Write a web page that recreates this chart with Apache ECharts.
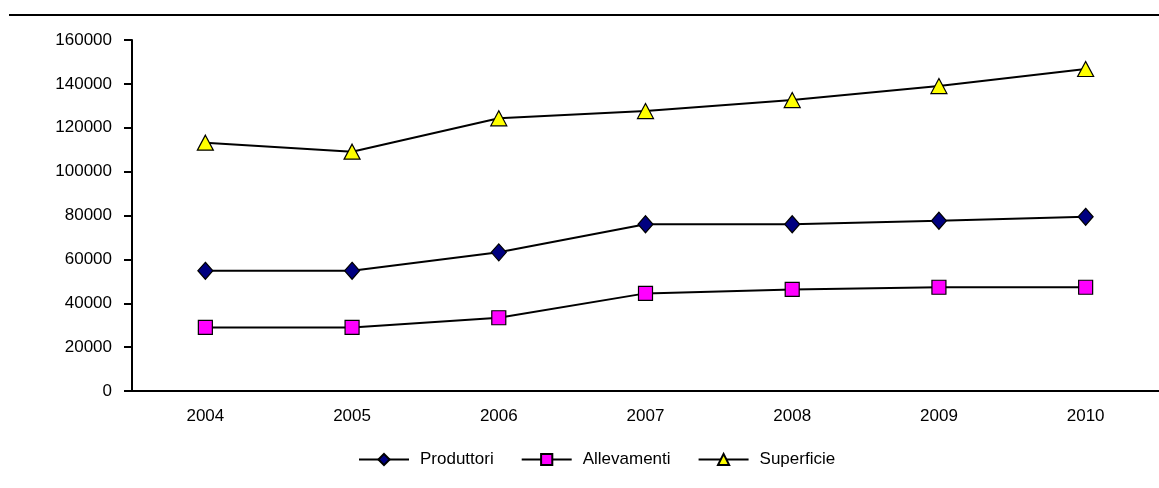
<!DOCTYPE html>
<html>
<head>
<meta charset="utf-8">
<script src="https://cdn.jsdelivr.net/npm/echarts@6/dist/echarts.min.js"></script>
<style>
  html, body { margin: 0; padding: 0; background: #fff; }
  #chart { width: 1159px; height: 488px; }
</style>
</head>
<body>
<div id="chart"></div>
<script>
const years = ['2004', '2005', '2006', '2007', '2008', '2009', '2010']
const produttori = [54800, 54800, 63200, 76000, 76000, 77600, 79400]
const allevamenti = [29000, 29000, 33400, 44500, 46300, 47300, 47300]
const superficie = [113200, 109100, 124300, 127600, 132600, 139000, 146800]

const font = '"Liberation Sans", Arial, sans-serif'

const chart = echarts.init(document.getElementById('chart'))

function lineSeries(name, data, symbol, size, fill) {
  return {
    name: name,
    type: 'line',
    data: data,
    symbol: symbol,
    symbolSize: size,
    showAllSymbol: true,
    lineStyle: { color: '#000', width: 2 },
    itemStyle: { color: fill, borderColor: '#000', borderWidth: 1.2 },
    emphasis: { disabled: true },
  }
}

chart.setOption({
  animation: false,
  textStyle: { fontFamily: font },
  grid: { left: 132, right: 0, top: 40, bottom: 97, containLabel: false },

  legend: {
    data: ['Produttori', 'Allevamenti', 'Superficie'],
    left: 353,
    top: 446,
    itemWidth: 50,
    itemHeight: 14,
    itemGap: 27,
    textStyle: { fontFamily: font, fontSize: 17, color: '#000', padding: [0, 0, 0, 6] },
  },

  xAxis: {
    type: 'category',
    data: years,
    boundaryGap: true,
    axisLine: { lineStyle: { color: '#000', width: 2 } },
    axisTick: { show: false },
    axisLabel: { color: '#000', fontSize: 17, margin: 17, fontFamily: font },
  },

  yAxis: {
    type: 'value',
    min: 0,
    max: 160000,
    interval: 20000,
    axisLine: { show: true, lineStyle: { color: '#000', width: 2 } },
    axisTick: { show: true, length: 8, lineStyle: { color: '#000', width: 2 } },
    axisLabel: {
      color: '#000', fontSize: 17, margin: 20, fontFamily: font,
      formatter: (v) => String(v),
    },
    splitLine: { show: false },
  },

  // riga orizzontale in alto
  graphic: [{
    type: 'line',
    shape: { x1: 9, y1: 15, x2: 1159, y2: 15 },
    style: { stroke: '#000', lineWidth: 2 },
  }],

  series: [
    lineSeries('Produttori', produttori, 'diamond', [15, 17], '#000080'),
    lineSeries('Allevamenti', allevamenti, 'rect', 14, '#ff00ff'),
    lineSeries('Superficie', superficie, 'triangle', [16, 15], '#ffff00'),
  ],
})
</script>
</body>
</html>
